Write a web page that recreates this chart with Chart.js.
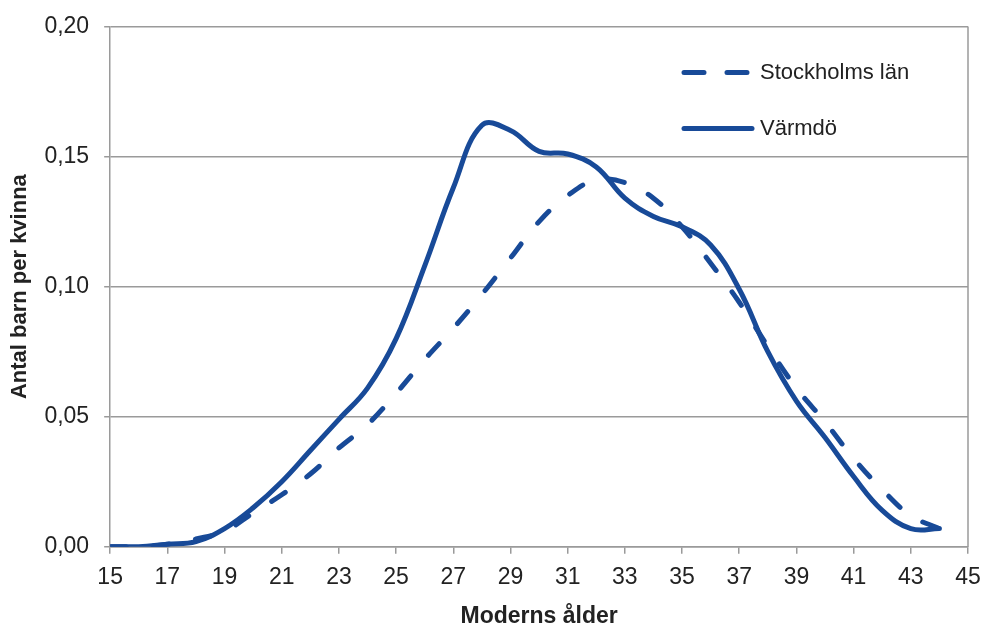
<!DOCTYPE html>
<html>
<head>
<meta charset="utf-8">
<script src="https://cdn.jsdelivr.net/npm/chart.js@4.4.1/dist/chart.umd.min.js"></script>
<style>
  html, body { margin: 0; padding: 0; background: #fff; }
  #wrap { width: 984px; height: 628px; }
</style>
</head>
<body>
<div id="wrap"><canvas id="chart"></canvas></div>
<script>
// moderns ålder (år)
const ages = [15, 16, 17, 18, 19, 20, 21, 22, 23, 24, 25, 26, 27, 28, 29,
              30, 31, 32, 33, 34, 35, 36, 37, 38, 39, 40, 41, 42, 43, 44];

// antal barn per kvinna
const stockholm = [0.000, 0.000, 0.001, 0.003, 0.006, 0.013, 0.020, 0.028, 0.038, 0.047,
                   0.059, 0.072, 0.084, 0.097, 0.111, 0.125, 0.135, 0.141, 0.140, 0.134,
                   0.123, 0.109, 0.094, 0.077, 0.061, 0.048, 0.034, 0.022, 0.012, 0.007];
const varmdo = [0.000, 0.000, 0.001, 0.002, 0.007, 0.015, 0.025, 0.037, 0.049, 0.061,
                0.080, 0.108, 0.138, 0.162, 0.160, 0.152, 0.151, 0.146, 0.134, 0.127,
                0.123, 0.116, 0.099, 0.075, 0.056, 0.042, 0.027, 0.014, 0.007, 0.007];

const yTicks = [0, 0.05, 0.10, 0.15, 0.20];
const seriesNames = ['Stockholms län', 'Värmdö'];

const BLUE = 'rgb(24, 74, 152)';
const GRID = '#9a9a9a';
const TEXT = '#222';
const FONT = '"Liberation Sans", Arial, sans-serif';

function toPoints(values) {
    return ages.map((a, i) => ({ x: a, y: values[i] }));
}

// right edge of the plot frame
const frameRight = {
    id: 'frameRight',
    beforeDatasetsDraw(chart) {
        const c = chart.ctx;
        const a = chart.chartArea;
        c.save();
        c.strokeStyle = GRID;
        c.lineWidth = 1.5;
        c.beginPath();
        c.moveTo(a.right, a.top);
        c.lineTo(a.right, a.bottom);
        c.stroke();
        c.restore();
    }
};

// legend drawn inside the plot area, top right
const insideLegend = {
    id: 'insideLegend',
    afterDraw(chart) {
        const c = chart.ctx;
        const area = chart.chartArea;
        const x0 = area.right - 286;
        const rows = [
            { name: seriesNames[0], dash: [20, 23], y: area.top + 46 },
            { name: seriesNames[1], dash: [], y: area.top + 102 }
        ];
        c.save();
        c.strokeStyle = BLUE;
        c.lineWidth = 5;
        c.lineCap = 'round';
        c.font = '22px ' + FONT;
        c.fillStyle = TEXT;
        c.textBaseline = 'middle';
        rows.forEach(r => {
            c.setLineDash(r.dash);
            c.beginPath();
            c.moveTo(x0 + 2, r.y);
            c.lineTo(x0 + 70, r.y);
            c.stroke();
            c.fillText(r.name, x0 + 78, r.y);
        });
        c.restore();
    }
};

const ctx = document.getElementById('chart');
new Chart(ctx, {
    type: 'line',
    data: {
        datasets: [{
            label: seriesNames[0],
            data: toPoints(stockholm),
            borderColor: BLUE,
            borderWidth: 5,
            borderDash: [16, 27],
            borderCapStyle: 'round',
            pointRadius: 0,
            tension: 0.4,
            fill: false
        }, {
            label: seriesNames[1],
            data: toPoints(varmdo),
            borderColor: BLUE,
            borderWidth: 5,
            borderCapStyle: 'round',
            pointRadius: 0,
            tension: 0.4,
            fill: false
        }]
    },
    options: {
        responsive: true,
        maintainAspectRatio: false,
        animation: false,
        layout: { padding: { top: 11, right: 0, left: 7, bottom: 0 } },
        plugins: {
            legend: { display: false },
            tooltip: { enabled: false }
        },
        scales: {
            x: {
                type: 'linear',
                min: 15,
                max: 45,
                afterFit(scale) {
                    scale.paddingRight = 16;
                },
                border: { color: GRID, width: 1.5 },
                grid: {
                    display: true,
                    drawOnChartArea: false,
                    drawTicks: true,
                    tickLength: 7,
                    color: GRID,
                    lineWidth: 1.5
                },
                ticks: {
                    stepSize: 2,
                    color: TEXT,
                    font: { family: FONT, size: 23 },
                    padding: 10,
                    maxRotation: 0
                },
                title: {
                    display: true,
                    text: 'Moderns ålder',
                    color: TEXT,
                    font: { family: FONT, size: 23, weight: 'bold' },
                    padding: { top: 1, bottom: -2 }
                }
            },
            y: {
                min: 0,
                max: 0.20,
                afterBuildTicks(axis) {
                    axis.ticks = yTicks.map(v => ({ value: v }));
                },
                border: { color: GRID, width: 1.5 },
                grid: {
                    color: GRID,
                    lineWidth: 1.5,
                    tickLength: 6
                },
                ticks: {
                    color: TEXT,
                    font: { family: FONT, size: 23, lineHeight: 1 },
                    padding: 15,
                    callback: v => v.toFixed(2).replace('.', ',')
                },
                title: {
                    display: true,
                    text: 'Antal barn per kvinna',
                    color: TEXT,
                    font: { family: FONT, size: 22, weight: 'bold' },
                    padding: { top: 0, bottom: -4 }
                }
            }
        }
    },
    plugins: [frameRight, insideLegend]
});
</script>
</body>
</html>
